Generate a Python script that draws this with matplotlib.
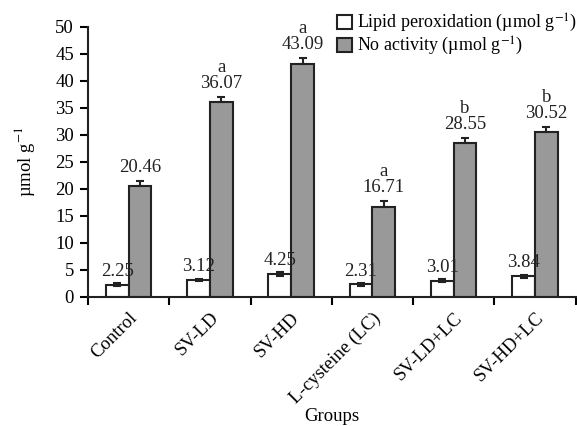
import numpy as np
import matplotlib.pyplot as plt
from matplotlib.transforms import ScaledTranslation

# values
groups = ['Control', 'SV-LD', 'SV-HD', 'L-cysteine (LC)', 'SV-LD+LC', 'SV-HD+LC']
lipid = [2.25, 3.12, 4.25, 2.31, 3.01, 3.84]
lipid_err = [0.3, 0.25, 0.3, 0.25, 0.25, 0.25]
no_act = [20.46, 36.07, 43.09, 16.71, 28.55, 30.52]
no_err = [1.0, 0.9, 1.1, 1.0, 0.9, 1.0]
letters = ['', 'a', 'a', 'a', 'b', 'b']

plt.rcParams['font.family'] = ['Liberation Serif', 'DejaVu Serif']
plt.rcParams['mathtext.fontset'] = 'stix'
fs = 13.5

fig = plt.figure(figsize=(5.77, 4.26), dpi=100)
ax = fig.add_axes([0.1525, 0.303, 0.845, 0.634])

x = np.arange(len(groups))
w = 0.28
ax.bar(x - w/2, lipid, w, color='white', edgecolor='#222222', linewidth=1.5,
       yerr=lipid_err, error_kw=dict(ecolor='#222222', elinewidth=1.5, capsize=3, capthick=1.5),
       label='Lipid peroxidation (µmol g$^{-1}$)')
ax.bar(x + w/2, no_act, w, color='#999999', edgecolor='#222222', linewidth=1.5,
       yerr=[np.zeros(len(no_err)), no_err],
       error_kw=dict(ecolor='#222222', elinewidth=1.5, capsize=3, capthick=1.5),
       label='No activity (µmol g$^{-1}$)')

for i in range(len(groups)):
    ax.text(x[i] - w/2, lipid[i] + 0.9, '%.2f' % lipid[i], ha='center', va='bottom', fontsize=fs, color='#222222')
    top = no_act[i] + no_err[i] + 0.9
    ax.text(x[i] + w/2, top, '%.2f' % no_act[i], ha='center', va='bottom', fontsize=fs, color='#222222')
    if letters[i]:
        ax.text(x[i] + w/2, top + 3.0, letters[i], ha='center', va='bottom', fontsize=fs, color='#222222')

ax.set_xlim(-0.5, len(groups) - 0.5)
ax.set_ylim(0, 50)
ax.set_yticks(range(0, 51, 5))
ax.set_xticks(np.arange(-0.5, len(groups), 1), minor=False)
ax.set_xticklabels([])
ax.set_xticks(x, minor=True)
ax.set_xticklabels(groups, minor=True, rotation=45, ha='right', va='top',
                   rotation_mode='anchor', fontsize=fs)
shift = ScaledTranslation(0.1, 0, fig.dpi_scale_trans)
for lab in ax.get_xticklabels(minor=True):
    lab.set_transform(lab.get_transform() + shift)
ax.tick_params(axis='x', which='minor', length=0, pad=9)
ax.tick_params(axis='x', which='major', direction='out', length=5.5, width=1.5)
ax.tick_params(axis='y', direction='out', length=6, width=1.5, labelsize=fs, pad=4)
for s in ['top', 'right']:
    ax.spines[s].set_visible(False)
for s in ['left', 'bottom']:
    ax.spines[s].set_linewidth(1.5)
    ax.spines[s].set_color('#222222')

ax.set_ylabel('µmol g$^{-1}$', fontsize=fs)
ax.yaxis.set_label_coords(-0.105, 0.5)
ax.set_xlabel('Groups', fontsize=fs)
ax.xaxis.set_label_coords(0.5, -0.41)

ax.legend(loc='upper right', bbox_to_anchor=(1.003, 1.055), frameon=False, fontsize=13,
          handlelength=0.85, handleheight=0.85, handletextpad=0.25, labelspacing=0.05,
          borderpad=0, borderaxespad=0)

fig.savefig('out.png', dpi=100)
